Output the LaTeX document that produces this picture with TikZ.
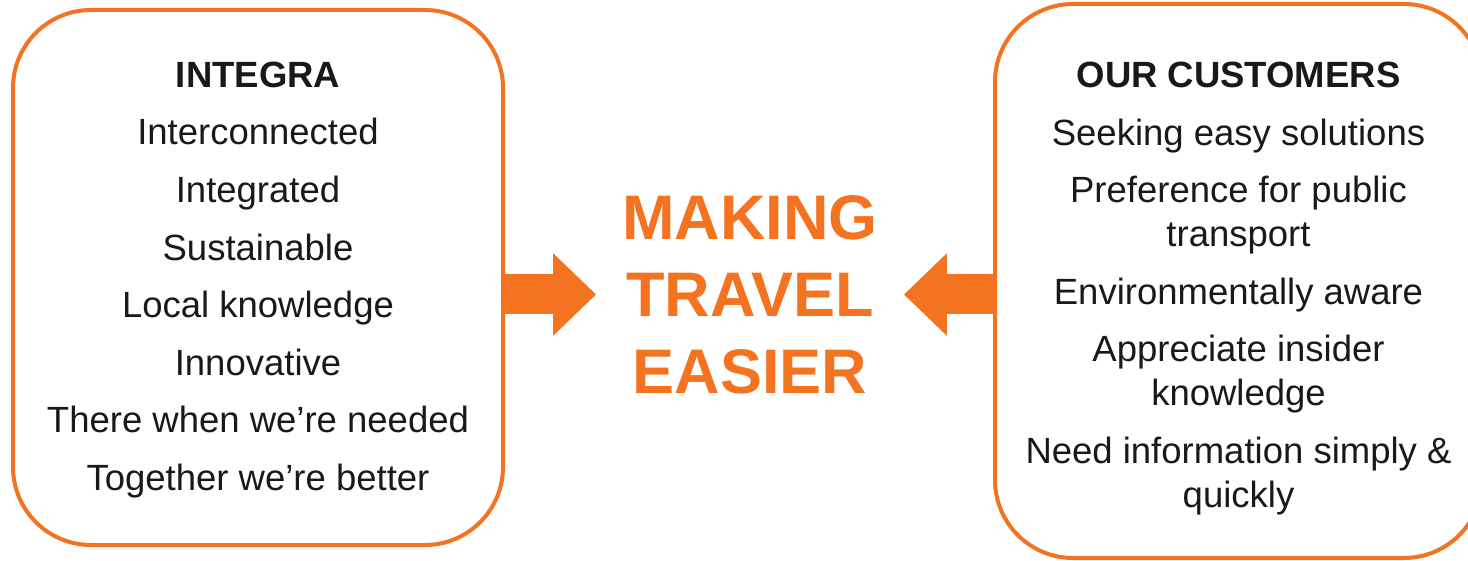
\documentclass[tikz,border=0pt]{standalone}
\usepackage{fontspec}
\setmainfont{Liberation Sans}
\usetikzlibrary{arrows.meta}
\definecolor{integraorange}{HTML}{F37321}
\tikzset{
  panel/.style={draw=integraorange,line width=4pt,rounded corners=78pt,
    minimum width=490pt,minimum height=535pt},
  entries/.style={align=center,text=black!90,font=\fontsize{36.5}{44}\selectfont},
  slogan/.style={align=center,inner xsep=26pt,text=integraorange,
    font=\fontsize{63}{77}\selectfont\bfseries},
  feed/.style={integraorange,line width=40pt,-{Triangle[length=43pt,width=80pt]}}
}

\begin{document}
\begin{tikzpicture}[x=1pt,y=-1pt]
  \useasboundingbox (0,0) rectangle (1468,561);
  \clip (0,0) rectangle (1468,561);
  % two boxes
  \node[panel] (integra) at (258,277.5) {};
  \node[panel,minimum width=487pt,minimum height=554pt] (customers) at (1238.5,281) {};
  \node[entries] (integralist) at ([yshift=-2.5pt]integra.center)
    {\textbf{INTEGRA}\\[13.6pt]
     Interconnected\\[13.6pt]
     Integrated\\[13.6pt]
     Sustainable\\[13.6pt]
     Local knowledge\\[13.6pt]
     Innovative\\[13.6pt]
     There when we’re needed\\[13.6pt]
     Together we’re better};
  \node[entries] (customerlist) at ([yshift=-7.5pt]customers.center)
    {\textbf{OUR CUSTOMERS}\\[13.6pt]
     Seeking easy solutions\\[13.6pt]
     Preference for public\\transport\\[13.6pt]
     Environmentally aware\\[13.6pt]
     Appreciate insider\\knowledge\\[13.6pt]
     Need information simply \&\\quickly};
  % centre
  \node[slogan] (title) at (750,294.5) {MAKING\\TRAVEL\\EASIER};
  \draw[feed] (integra.east |- title.west) -- (title.west);
  \draw[feed] (customers.west |- title.east) -- (title.east);
\end{tikzpicture}
\end{document}
